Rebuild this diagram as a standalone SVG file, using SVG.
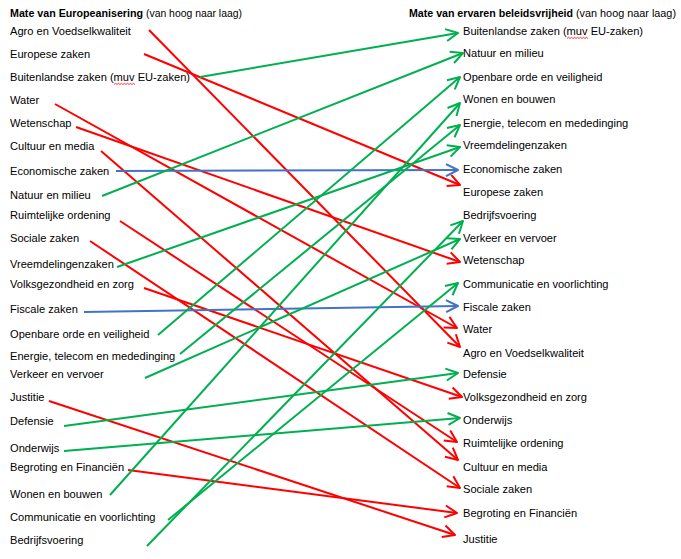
<svg xmlns="http://www.w3.org/2000/svg" width="681" height="559" viewBox="0 0 681 559">
<style>
text{font-family:"Liberation Sans",Arial,sans-serif;font-size:11.1px;fill:#000}
.b{font-weight:bold}
.c line{stroke-width:2;fill:none}
.r{stroke:#FF0000}
.g{stroke:#00B050}
.u{stroke:#4472C4}
.sq{stroke:#FF0000;stroke-width:0.8;fill:none}
</style>
<defs>
<marker id="mr" markerUnits="userSpaceOnUse" viewBox="-14 -8 16 16" markerWidth="16" markerHeight="16" refX="0" refY="0" orient="auto"><path d="M-12,-6 L0,0 L-12,6" fill="none" stroke="#FF0000" stroke-width="2" stroke-linejoin="round"/></marker>
<marker id="mg" markerUnits="userSpaceOnUse" viewBox="-14 -8 16 16" markerWidth="16" markerHeight="16" refX="0" refY="0" orient="auto"><path d="M-12,-6 L0,0 L-12,6" fill="none" stroke="#00B050" stroke-width="2" stroke-linejoin="round"/></marker>
<marker id="mb" markerUnits="userSpaceOnUse" viewBox="-14 -8 16 16" markerWidth="16" markerHeight="16" refX="0" refY="0" orient="auto"><path d="M-12,-6 L0,0 L-12,6" fill="none" stroke="#4472C4" stroke-width="2" stroke-linejoin="round"/></marker>
</defs>
<rect width="681" height="559" fill="#fff"/>
<g id="headers">
<g id="header-left"><text class="b" x="10" y="17" textLength="133" lengthAdjust="spacingAndGlyphs">Mate van Europeanisering</text><text x="146" y="17" textLength="96" lengthAdjust="spacingAndGlyphs">(van hoog naar laag)</text></g>
<g id="header-right"><text class="b" x="409" y="17" textLength="164" lengthAdjust="spacingAndGlyphs">Mate van ervaren beleidsvrijheid</text><text x="576" y="17" textLength="100" lengthAdjust="spacingAndGlyphs">(van hoog naar laag)</text></g>
</g>
<g id="left">
<g id="l-agro"><text x="10" y="35">Agro en Voedselkwaliteit</text></g>
<g id="l-europese"><text x="10" y="58">Europese zaken</text></g>
<g id="l-buitenlandse"><text x="10" y="81">Buitenlandse zaken (muv EU-zaken)</text><path class="sq" d="M114,84.5 l1.5,-1.2 l1.5,1.2 l1.5,-1.2 l1.5,1.2 l1.5,-1.2 l1.5,1.2 l1.5,-1.2 l1.5,1.2 l1.5,-1.2 l1.5,1.2 l1.5,-1.2 l1.5,1.2 l1.5,-1.2 l1.5,1.2"/></g>
<g id="l-water"><text x="10" y="104">Water</text></g>
<g id="l-wetenschap"><text x="10" y="127">Wetenschap</text></g>
<g id="l-cultuur"><text x="10" y="150">Cultuur en media</text></g>
<g id="l-economische"><text x="10" y="175">Economische zaken</text></g>
<g id="l-natuur"><text x="10" y="199">Natuur en milieu</text></g>
<g id="l-ruimtelijke"><text x="10" y="219">Ruimtelijke ordening</text></g>
<g id="l-sociale"><text x="10" y="242">Sociale zaken</text></g>
<g id="l-vreemdelingen"><text x="10" y="268">Vreemdelingenzaken</text></g>
<g id="l-volksgezondheid"><text x="10" y="288">Volksgezondheid en zorg</text></g>
<g id="l-fiscale"><text x="10" y="313">Fiscale zaken</text></g>
<g id="l-openbare"><text x="10" y="338">Openbare orde en veiligheid</text></g>
<g id="l-energie"><text x="10" y="360">Energie, telecom en mededinging</text></g>
<g id="l-verkeer"><text x="10" y="378">Verkeer en vervoer</text></g>
<g id="l-justitie"><text x="10" y="401">Justitie</text></g>
<g id="l-defensie"><text x="10" y="425">Defensie</text></g>
<g id="l-onderwijs"><text x="10" y="452">Onderwijs</text></g>
<g id="l-begroting"><text x="10" y="471">Begroting en Financiën</text></g>
<g id="l-wonen"><text x="10" y="498">Wonen en bouwen</text></g>
<g id="l-communicatie"><text x="10" y="521">Communicatie en voorlichting</text></g>
<g id="l-bedrijfsvoering"><text x="10" y="544">Bedrijfsvoering</text></g>
</g>
<g id="right">
<g id="r-buitenlandse"><text x="463" y="35">Buitenlandse zaken (muv EU-zaken)</text><path class="sq" d="M567,38.5 l1.5,-1.2 l1.5,1.2 l1.5,-1.2 l1.5,1.2 l1.5,-1.2 l1.5,1.2 l1.5,-1.2 l1.5,1.2 l1.5,-1.2 l1.5,1.2 l1.5,-1.2 l1.5,1.2 l1.5,-1.2 l1.5,1.2"/></g>
<g id="r-natuur"><text x="463" y="57">Natuur en milieu</text></g>
<g id="r-openbare"><text x="463" y="81">Openbare orde en veiligheid</text></g>
<g id="r-wonen"><text x="463" y="103">Wonen en bouwen</text></g>
<g id="r-energie"><text x="463" y="127">Energie, telecom en mededinging</text></g>
<g id="r-vreemdelingen"><text x="463" y="149">Vreemdelingenzaken</text></g>
<g id="r-economische"><text x="463" y="173">Economische zaken</text></g>
<g id="r-europese"><text x="463" y="196">Europese zaken</text></g>
<g id="r-bedrijfsvoering"><text x="463" y="219">Bedrijfsvoering</text></g>
<g id="r-verkeer"><text x="463" y="242">Verkeer en vervoer</text></g>
<g id="r-wetenschap"><text x="463" y="264">Wetenschap</text></g>
<g id="r-communicatie"><text x="463" y="288">Communicatie en voorlichting</text></g>
<g id="r-fiscale"><text x="463" y="311">Fiscale zaken</text></g>
<g id="r-water"><text x="463" y="333">Water</text></g>
<g id="r-agro"><text x="463" y="357">Agro en Voedselkwaliteit</text></g>
<g id="r-defensie"><text x="463" y="378">Defensie</text></g>
<g id="r-volksgezondheid"><text x="463" y="401">Volksgezondheid en zorg</text></g>
<g id="r-onderwijs"><text x="463" y="424">Onderwijs</text></g>
<g id="r-ruimtelijke"><text x="463" y="447">Ruimtelijke ordening</text></g>
<g id="r-cultuur"><text x="463" y="471">Cultuur en media</text></g>
<g id="r-sociale"><text x="463" y="493">Sociale zaken</text></g>
<g id="r-begroting"><text x="463" y="517">Begroting en Financiën</text></g>
<g id="r-justitie"><text x="463" y="543">Justitie</text></g>
</g>
<g id="connectors" class="c">
<line class="r" x1="149" y1="30" x2="460" y2="347" marker-end="url(#mr)"/>
<line class="r" x1="144" y1="54" x2="460" y2="185" marker-end="url(#mr)"/>
<line class="g" x1="200" y1="77" x2="458" y2="33" marker-end="url(#mg)"/>
<line class="r" x1="55" y1="104" x2="457" y2="328" marker-end="url(#mr)"/>
<line class="r" x1="76" y1="127" x2="460" y2="262" marker-end="url(#mr)"/>
<line class="r" x1="101" y1="151" x2="458" y2="460" marker-end="url(#mr)"/>
<line class="u" x1="116" y1="171" x2="458" y2="170" marker-end="url(#mb)"/>
<line class="g" x1="102" y1="196" x2="463" y2="53" marker-end="url(#mg)"/>
<line class="r" x1="120" y1="221" x2="457" y2="442" marker-end="url(#mr)"/>
<line class="r" x1="90" y1="241" x2="460" y2="488" marker-end="url(#mr)"/>
<line class="g" x1="117" y1="267" x2="460" y2="147" marker-end="url(#mg)"/>
<line class="r" x1="144" y1="288" x2="462" y2="397" marker-end="url(#mr)"/>
<line class="u" x1="84" y1="312" x2="458" y2="306" marker-end="url(#mb)"/>
<line class="g" x1="158" y1="335" x2="460" y2="77" marker-end="url(#mg)"/>
<line class="g" x1="180" y1="354" x2="460" y2="125" marker-end="url(#mg)"/>
<line class="g" x1="145" y1="378" x2="460" y2="239" marker-end="url(#mg)"/>
<line class="r" x1="49" y1="401" x2="455" y2="535" marker-end="url(#mr)"/>
<line class="g" x1="64" y1="426" x2="458" y2="373" marker-end="url(#mg)"/>
<line class="g" x1="64" y1="451" x2="460" y2="418" marker-end="url(#mg)"/>
<line class="r" x1="128" y1="470" x2="457" y2="513" marker-end="url(#mr)"/>
<line class="g" x1="110" y1="495" x2="460" y2="103" marker-end="url(#mg)"/>
<line class="g" x1="168" y1="520" x2="458" y2="283" marker-end="url(#mg)"/>
<line class="g" x1="147" y1="546" x2="463" y2="221" marker-end="url(#mg)"/>
</g>
</svg>
